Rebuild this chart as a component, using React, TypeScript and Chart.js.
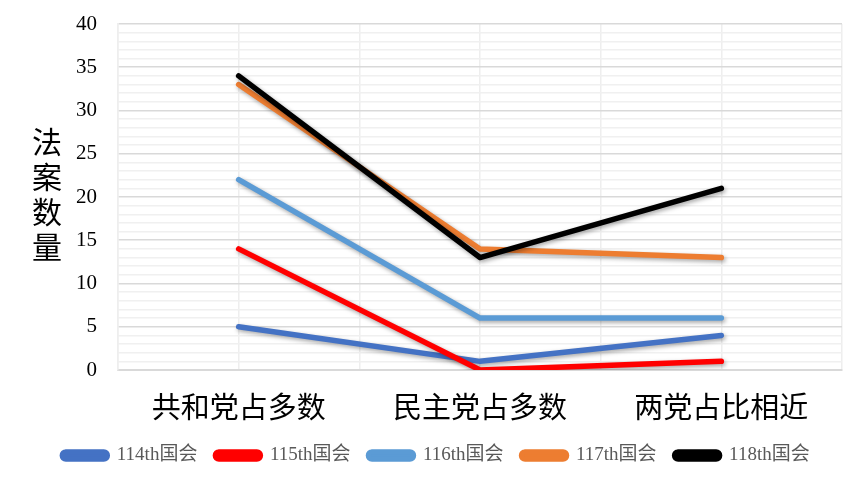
import { useEffect, useRef } from "react";
import { Chart, registerables, type ChartConfiguration, type Plugin } from "chart.js";

Chart.register(...registerables);

const categories = ["共和党占多数", "民主党占多数", "两党占比相近"];
const seriesNames = ["114th国会", "115th国会", "116th国会", "117th国会", "118th国会"];
const congress114 = [5, 1, 4];
const congress115 = [14, 0, 1];
const congress116 = [22, 6, 6];
const congress117 = [33, 14, 13];
const congress118 = [34, 13, 21];
const seriesValues = [congress114, congress115, congress116, congress117, congress118];
const seriesColors = ["#4472C4", "#FF0000", "#5B9BD5", "#ED7D31", "#000000"];
const yTitle = ["法", "案", "数", "量"];

const SERIF = "'Liberation Serif', 'Noto Sans CJK SC', serif";

const App = () => {
    const chartRef = useRef<HTMLCanvasElement>(null);
    const chartInstanceRef = useRef<Chart | null>(null);

    useEffect(() => {
        document.body.style.margin = "0";
        if (!chartRef.current) return;
        chartInstanceRef.current?.destroy();

        // soft drop shadow under the lines, like the Excel original
        const shadowPlugin: Plugin<"line"> = {
            id: "lineShadow",
            beforeDatasetsDraw: (chart) => {
                const { ctx } = chart;
                ctx.save();
                ctx.shadowColor = "rgba(0,0,0,0.35)";
                ctx.shadowBlur = 4;
                ctx.shadowOffsetX = 1.5;
                ctx.shadowOffsetY = 2;
            },
            afterDatasetsDraw: (chart) => {
                chart.ctx.restore();
            },
        };

        // vertical (unrotated) axis title
        const yTitlePlugin: Plugin<"line"> = {
            id: "yTitle",
            afterDraw: (chart) => {
                const { ctx } = chart;
                ctx.save();
                ctx.fillStyle = "#000";
                ctx.font = `30px ${SERIF}`;
                ctx.textAlign = "center";
                ctx.textBaseline = "middle";
                yTitle.forEach((ch, i) => {
                    ctx.fillText(ch, 47, 145 + i * 35);
                });
                ctx.restore();
            },
        };

        const config: ChartConfiguration<"line"> = {
            type: "line",
            data: {
                datasets: seriesNames.map((name, i) => ({
                    label: name,
                    data: seriesValues[i].map((v, j) => ({ x: j, y: v })),
                    borderColor: seriesColors[i],
                    backgroundColor: seriesColors[i],
                    borderWidth: 5.5,
                    borderCapStyle: "round",
                    borderJoinStyle: "round",
                    pointRadius: 0,
                    tension: 0,
                    order: seriesNames.length - i,
                })),
            },
            options: {
                animation: false,
                responsive: true,
                maintainAspectRatio: false,
                layout: { padding: { top: 24, right: 23, bottom: 7, left: 30 } },
                plugins: {
                    tooltip: { enabled: false },
                    legend: {
                        position: "bottom",
                        labels: {
                            boxWidth: 45,
                            boxHeight: 7,
                            useBorderRadius: true,
                            borderRadius: 3.5,
                            padding: 18,
                            color: "#595959",
                            font: { family: SERIF, size: 19 },
                            sort: (a, b) => (a.datasetIndex ?? 0) - (b.datasetIndex ?? 0),
                        },
                    },
                },
                scales: {
                    x: {
                        type: "linear",
                        min: -0.5,
                        max: 2.5,
                        afterFit: (scale) => {
                            scale.height = 58;
                        },
                        ticks: {
                            stepSize: 0.5,
                            autoSkip: false,
                            maxRotation: 0,
                            padding: 23,
                            color: "#000",
                            font: { family: SERIF, size: 29 },
                            callback: (v) => {
                                const n = Number(v);
                                return Number.isInteger(n) ? categories[n] : "";
                            },
                        },
                        grid: { color: "#eeeeee", lineWidth: 1.5, drawTicks: false },
                        border: { color: "#d9d9d9", width: 2 },
                    },
                    y: {
                        min: 0,
                        max: 40,
                        afterFit: (scale) => {
                            scale.width = 88;
                            scale.paddingTop = 0;
                            scale.paddingBottom = 0;
                        },
                        ticks: {
                            stepSize: 1,
                            autoSkip: false,
                            padding: 21,
                            color: "#000",
                            font: { family: SERIF, size: 21 },
                            callback: (v) => (Number(v) % 5 === 0 ? String(v) : ""),
                        },
                        grid: {
                            drawTicks: false,
                            color: (c) => (c.tick && c.tick.value % 5 === 0 ? "#d9d9d9" : "#f0f0f0"),
                            lineWidth: 1.6,
                        },
                        border: { color: "#eeeeee", width: 1.5 },
                    },
                },
            },
            plugins: [shadowPlugin, yTitlePlugin],
        };

        chartInstanceRef.current = new Chart(chartRef.current, config);

        return () => {
            chartInstanceRef.current?.destroy();
        };
    }, []);

    return (
        <div style={{ position: "relative", width: "865px", height: "482px", background: "#fff" }}>
            <canvas ref={chartRef} />
        </div>
    );
};

export default App;
